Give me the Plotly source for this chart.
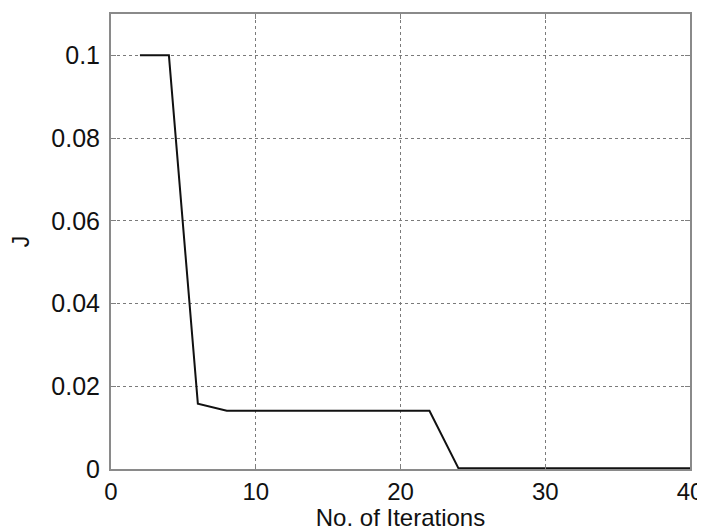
import plotly.graph_objects as go

iterations = [2, 4, 6, 8, 22, 24, 40]
J_values = [0.1, 0.1, 0.0158, 0.0141, 0.0141, 0.0002, 0.0002]

x_ticks = [0, 10, 20, 30, 40]
y_ticks = [0, 0.02, 0.04, 0.06, 0.08, 0.1]
y_tick_labels = ["0", "0.02", "0.04", "0.06", "0.08", "0.1"]

FONT = "Liberation Sans, Arial"

fig = go.Figure()
fig.add_trace(go.Scatter(x=iterations, y=J_values, mode="lines",
                         line=dict(color="#111111", width=2), showlegend=False))

axis_common = dict(showline=True, linecolor="#8a8a8a", linewidth=2, mirror="ticks",
                   ticks="inside", ticklen=5, tickcolor="#808080",
                   showgrid=True, gridcolor="#7a7a7a", griddash="3px,3px", gridwidth=1,
                   zeroline=False, automargin=False)

fig.update_xaxes(range=[0, 40], tickvals=x_ticks,
                 tickfont=dict(family=FONT, size=24, color="#111"),
                 title=dict(text="No. of Iterations", font=dict(family=FONT, size=24, color="#111"), standoff=6),
                 **axis_common)
fig.update_yaxes(range=[0, 0.11], tickvals=y_ticks, ticktext=y_tick_labels,
                 ticklabelstandoff=4,
                 tickfont=dict(family=FONT, size=25, color="#111"),
                 title=dict(text="J", font=dict(family=FONT, size=23, color="#111"), standoff=18),
                 **axis_common)

fig.update_layout(width=697, height=523, margin=dict(l=103, r=15, t=6, b=62),
                  plot_bgcolor="white", paper_bgcolor="white")
fig.write_html("out.html")
